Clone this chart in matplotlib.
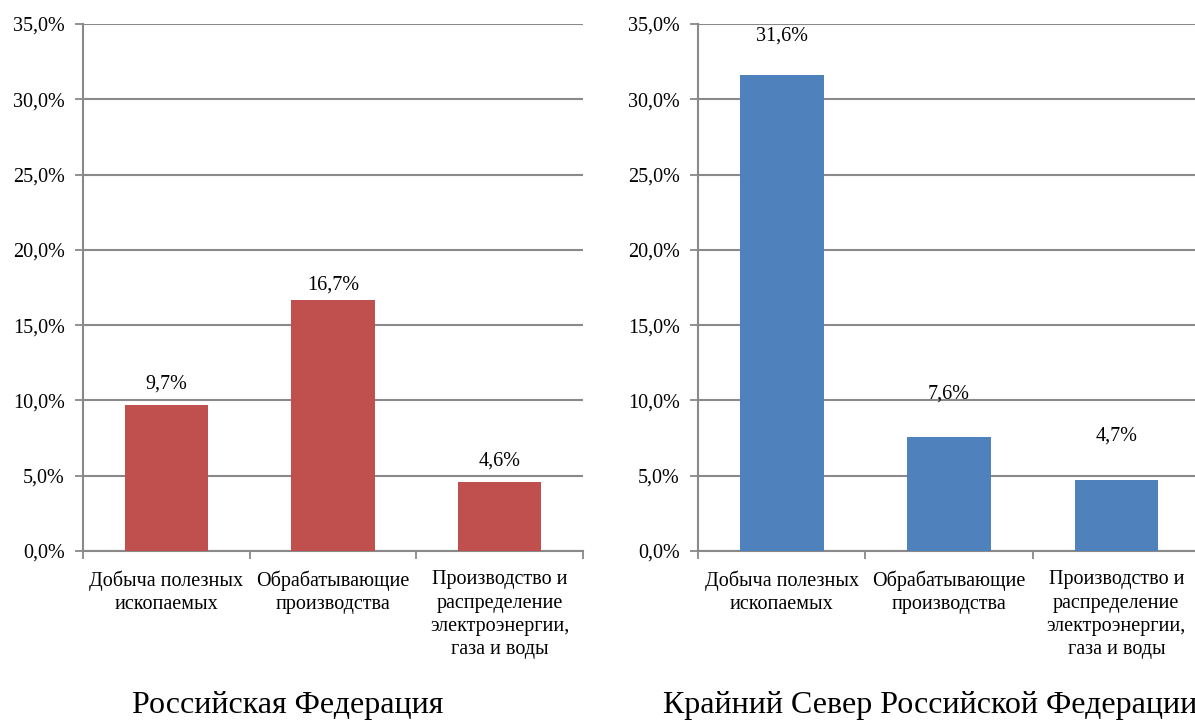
import matplotlib.pyplot as plt
from matplotlib.ticker import FuncFormatter

plt.rcParams['font.family'] = ['Liberation Serif', 'DejaVu Serif']

categories = ['Добыча полезных\nископаемых',
              'Обрабатывающие\nпроизводства',
              'Производство и\nраспределение\nэлектроэнергии,\nгаза и воды']
rf_values = [9.7, 16.7, 4.6]
north_values = [31.6, 7.6, 4.7]
titles = ['Российская Федерация', 'Крайний Север Российской Федерации']

grid_color = '#898989'
fs = 14.5


def pct(v, pos=None):
    return f'{v:.1f}%'.replace('.', ',')


def draw(ax, values, color, label_offs):
    x = [i + 0.5 for i in range(len(values))]
    ax.bar(x, values, width=0.5, color=color, zorder=3)
    for xi, v, off in zip(x, values, label_offs):
        ax.annotate(pct(v), (xi, v), xytext=(0, off), textcoords='offset pixels',
                    ha='center', va='center', fontsize=fs, zorder=4)
    ax.set_xlim(0, len(values))
    ax.set_ylim(0, 35)
    ax.set_yticks(range(0, 36, 5))
    ax.yaxis.set_major_formatter(FuncFormatter(pct))
    ax.set_xticks(range(len(values) + 1))
    ax.set_xticklabels([])
    ax.set_xticks(x, minor=True)
    ax.set_xticklabels(categories, minor=True, fontsize=fs, linespacing=1.3, va='top')
    ax.tick_params(axis='x', which='minor', length=0, pad=14)
    ax.tick_params(axis='x', which='major', length=6, width=1.3, color=grid_color)
    ax.tick_params(axis='y', length=6, width=1.3, color=grid_color, labelsize=fs, pad=7)
    ax.grid(axis='y', color=grid_color, linewidth=1.5, zorder=0)
    for s in ['top', 'right']:
        ax.spines[s].set_visible(False)
    for s in ['left', 'bottom']:
        ax.spines[s].set_color(grid_color)
        ax.spines[s].set_linewidth(1.5)


fig = plt.figure(figsize=(11.95, 7.22), dpi=100)
ax1 = fig.add_axes([83 / 1195, 1 - 551 / 722, 500 / 1195, 527 / 722])
ax2 = fig.add_axes([698 / 1195, 1 - 551 / 722, 502 / 1195, 527 / 722])

draw(ax1, rf_values, '#C0504D', [21, 14, 21])
draw(ax2, north_values, '#4F81BD', [39, 43, 44])

fig.text(288 / 1195, 1 - 706 / 722, titles[0], ha='center', va='center', fontsize=23)
fig.text(663 / 1195, 1 - 706 / 722, titles[1], ha='left', va='center', fontsize=23)

fig.savefig('out.png', dpi=100)
